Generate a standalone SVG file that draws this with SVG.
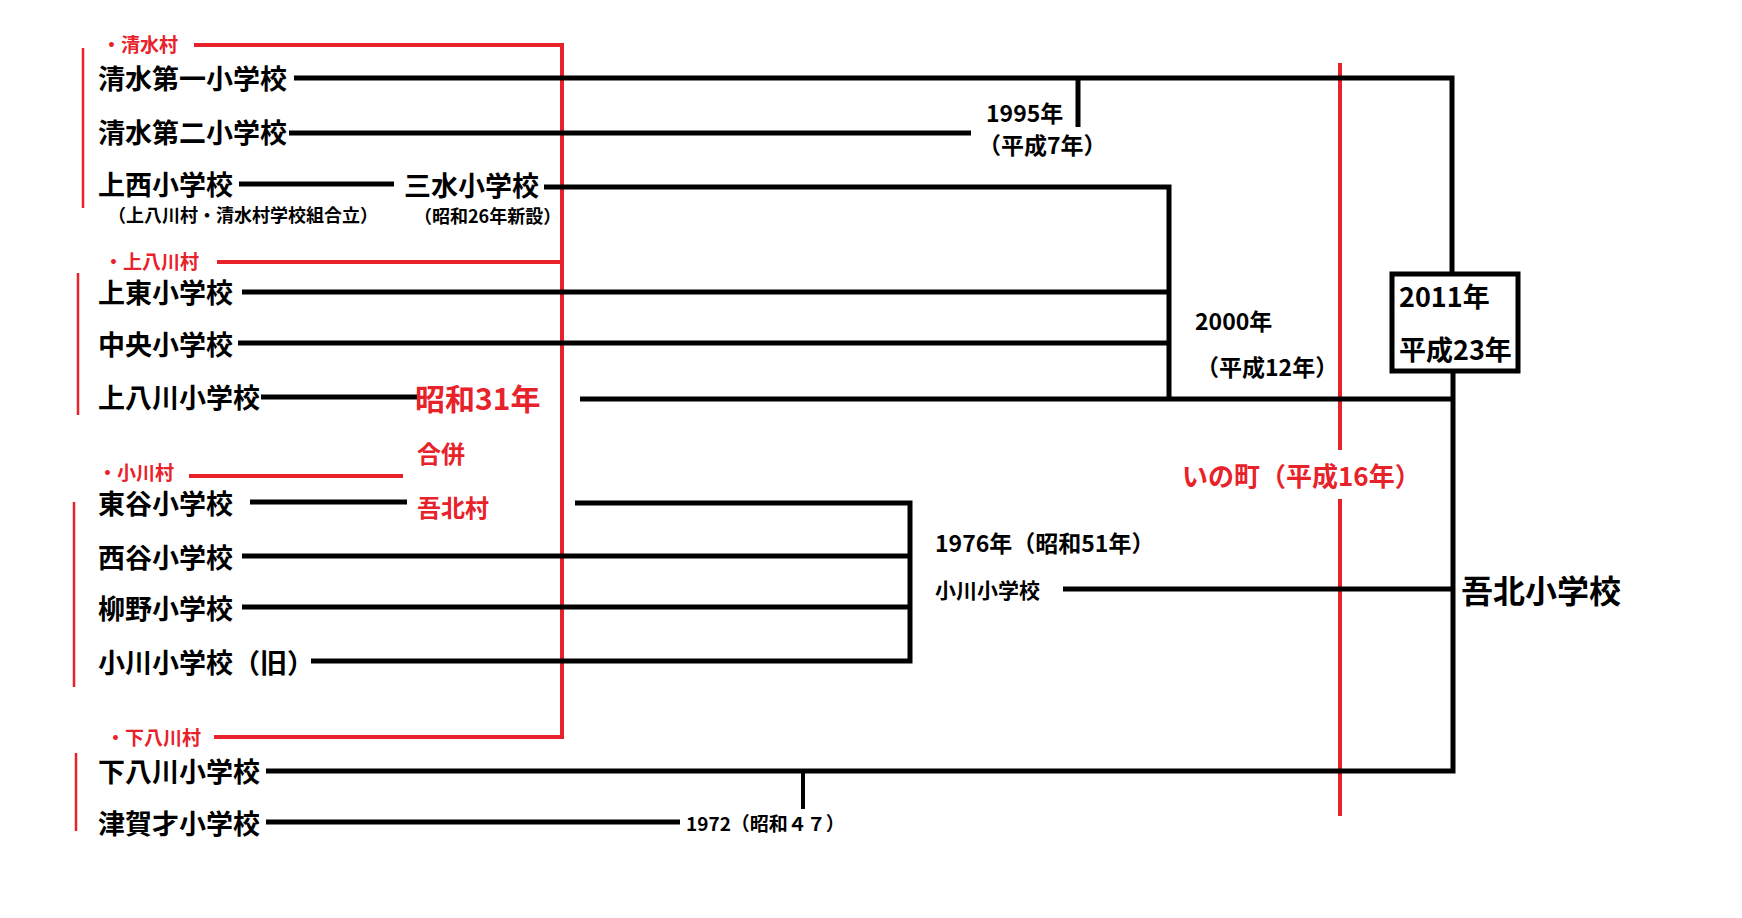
<svg xmlns="http://www.w3.org/2000/svg" width="1742" height="918" viewBox="0 0 1742 918">
<style>
text{font-family:"Noto Sans CJK JP","Noto Sans",sans-serif;font-weight:bold;dominant-baseline:central}
.n{font-size:27px;fill:#000}
.s{font-size:18px;fill:#000}
.m{font-size:23px;fill:#000}
.r{font-size:19px;fill:#e8222a}
.rb{font-size:27px;fill:#e8222a}
.k{stroke:#000;stroke-width:5;fill:none}
.kt{stroke:#000;stroke-width:4;fill:none}
.red{stroke:#e8222a;stroke-width:4;fill:none}
.redt{stroke:#e8222a;stroke-width:2.5;fill:none}
</style>
<rect width="1742" height="918" fill="#fff"/>
<g id="connectors">
<polyline class="red" points="194,45 562,45 562,737 214,737"/>
<line class="red" x1="217" y1="262" x2="562" y2="262"/>
<line class="red" x1="189" y1="476" x2="403" y2="476"/>
<line class="redt" x1="83" y1="48" x2="83" y2="208"/>
<line class="redt" x1="78" y1="273" x2="78" y2="415"/>
<line class="redt" x1="74" y1="502" x2="74" y2="687"/>
<line class="redt" x1="76" y1="753" x2="76" y2="831"/>
<line class="red" x1="1340" y1="63" x2="1340" y2="450"/>
<line class="red" x1="1340" y1="499" x2="1340" y2="816"/>
<polyline class="k" points="294,78 1452,78 1452,273"/>
<line class="k" x1="1078" y1="78" x2="1078" y2="127"/>
<line class="k" x1="289" y1="133" x2="971" y2="133"/>
<line class="k" x1="239" y1="184" x2="394" y2="184"/>
<polyline class="k" points="544,187 1169,187 1169,398"/>
<line class="k" x1="242" y1="292" x2="1169" y2="292"/>
<line class="k" x1="238" y1="343" x2="1169" y2="343"/>
<line class="k" x1="261" y1="397" x2="417" y2="397"/>
<line class="k" x1="580" y1="399" x2="1453" y2="399"/>
<polyline class="k" points="1453,372 1453,771 266,771"/>
<line class="k" x1="250" y1="502" x2="407" y2="502"/>
<polyline class="k" points="575,503 910,503 910,661 311,661"/>
<line class="k" x1="242" y1="556" x2="910" y2="556"/>
<line class="k" x1="242" y1="607" x2="910" y2="607"/>
<line class="k" x1="1063" y1="589" x2="1453" y2="589"/>
<line class="k" x1="266" y1="822" x2="680" y2="822"/>
<line class="kt" x1="803" y1="771" x2="803" y2="809"/>
</g>
<g id="villages">
<text class="r" x="102" y="43">・清水村</text>
<text class="r" x="104" y="260">・上八川村</text>
<text class="r" x="98" y="471">・小川村</text>
<text class="r" x="106" y="736">・下八川村</text>
</g>
<g id="merge">
<text class="rb" x="415" y="397" style="font-size:30px">昭和31年</text>
<text class="r" x="417" y="452" style="font-size:24px">合併</text>
<text class="r" x="417" y="506" style="font-size:24px">吾北村</text>
<text class="r" x="1182" y="474" style="font-size:26px">いの町（平成16年）</text>
</g>
<g id="schools">
<text class="n" x="98" y="77">清水第一小学校</text>
<text class="n" x="98" y="131">清水第二小学校</text>
<text class="n" x="98" y="183">上西小学校</text>
<text class="s" x="108" y="214">（上八川村・清水村学校組合立）</text>
<text class="n" x="404" y="184">三水小学校</text>
<text class="s" x="414" y="215">（昭和26年新設）</text>
<text class="n" x="98" y="291">上東小学校</text>
<text class="n" x="98" y="343">中央小学校</text>
<text class="n" x="98" y="396">上八川小学校</text>
<text class="n" x="98" y="502">東谷小学校</text>
<text class="n" x="98" y="556">西谷小学校</text>
<text class="n" x="98" y="607">柳野小学校</text>
<text class="n" x="98" y="661">小川小学校（旧）</text>
<text class="n" x="98" y="770">下八川小学校</text>
<text class="n" x="98" y="822">津賀才小学校</text>
</g>
<g id="events">
<text class="m" x="986" y="112">1995年</text>
<text class="m" x="978" y="144">（平成7年）</text>
<text class="m" x="1195" y="320">2000年</text>
<text class="m" x="1196" y="366">（平成12年）</text>
<text class="m" x="935" y="542">1976年（昭和51年）</text>
<text class="m" x="935" y="589" style="font-size:21px">小川小学校</text>
<text class="m" x="686" y="822" style="font-size:19px">1972（昭和４７）</text>
</g>
<g id="box2011">
<rect x="1392" y="274" width="126" height="97" fill="#fff" stroke="#000" stroke-width="5"/>
<text class="n" x="1399" y="295">2011年</text>
<text class="n" x="1399" y="348">平成23年</text>
</g>
<g id="result">
<text class="n" x="1461" y="589" style="font-size:32px">吾北小学校</text>
</g>
</svg>
